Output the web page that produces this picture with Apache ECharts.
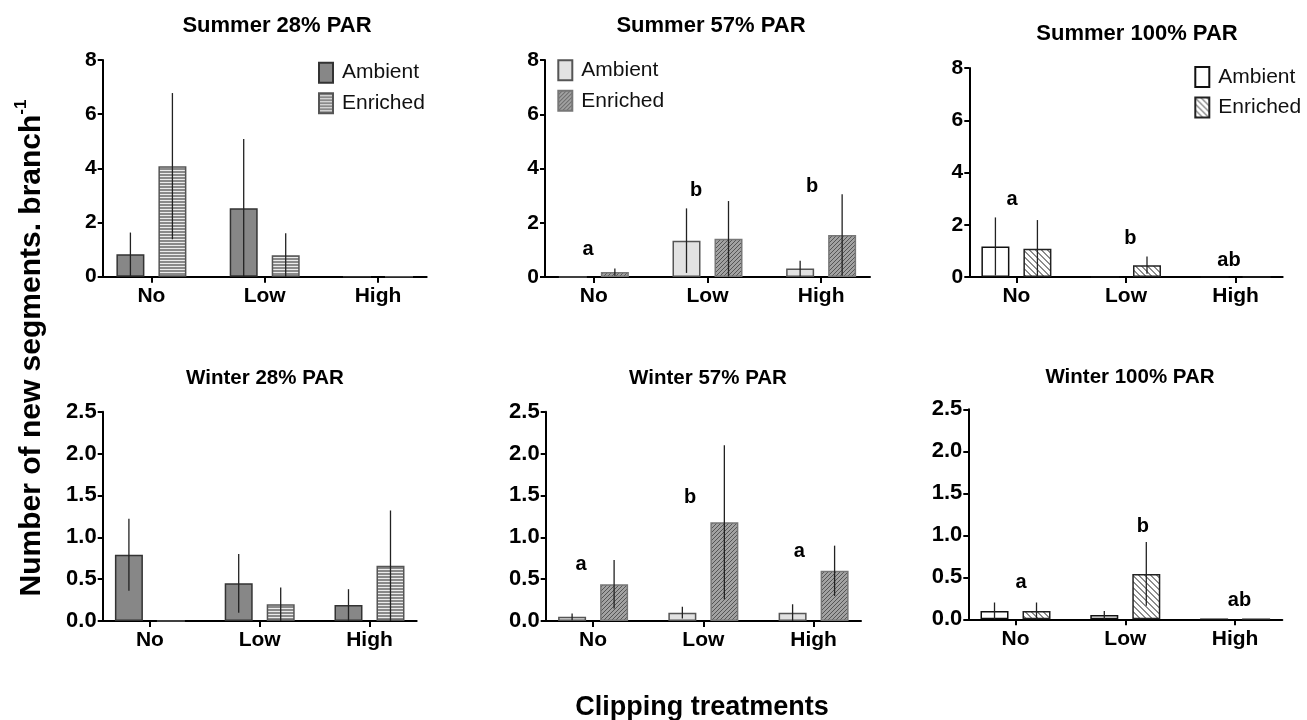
<!DOCTYPE html>
<html><head><meta charset="utf-8">
<script src="https://cdn.jsdelivr.net/npm/echarts@6/dist/echarts.min.js"></script>
<style>html,body{margin:0;padding:0;background:#fff}#c{width:1307px;height:720px}</style>
</head><body><div id="c"></div>
<script>
// ---------- DATA ----------
const categories = ['No', 'Low', 'High'];
const panelTitles = ['Summer 28% PAR', 'Summer 57% PAR', 'Summer 100% PAR', 'Winter 28% PAR', 'Winter 57% PAR', 'Winter 100% PAR'];
const seriesNames = ['Ambient', 'Enriched'];
const summerTicks = [0, 2, 4, 6, 8];
const winterTicks = [0, 0.5, 1.0, 1.5, 2.0, 2.5];

const summer28Ambient = [0.83, 2.53, 0];
const summer28AmbientErr = [0.80, 2.55, 0];
const summer28Enriched = [4.08, 0.79, 0];
const summer28EnrichedErr = [2.70, 0.81, 0];

const summer57Ambient = [0, 1.34, 0.31];
const summer57AmbientErr = [0, 1.19, 0.29];
const summer57Enriched = [0.18, 1.41, 1.55];
const summer57EnrichedErr = [0.13, 1.39, 1.50];
const summer57Letters = ['a', 'b', 'b'];
const summer57LetterAt = [[-0.05, 1.0], [0.90, 3.2], [1.92, 3.33]];

const summer100Ambient = [1.17, 0, 0];
const summer100AmbientErr = [1.11, 0, 0];
const summer100Enriched = [1.08, 0.45, 0];
const summer100EnrichedErr = [1.10, 0.33, 0];
const summer100Letters = ['a', 'b', 'ab'];
const summer100LetterAt = [[-0.04, 2.95], [1.04, 1.48], [1.94, 0.65]];

const winter28Ambient = [0.79, 0.45, 0.19];
const winter28AmbientErr = [0.43, 0.35, 0.19];
const winter28Enriched = [0, 0.20, 0.66];
const winter28EnrichedErr = [0, 0.20, 0.66];

const winter57Ambient = [0.05, 0.10, 0.10];
const winter57AmbientErr = [0.04, 0.07, 0.10];
const winter57Enriched = [0.44, 1.18, 0.60];
const winter57EnrichedErr = [0.29, 0.92, 0.30];
const winter57Letters = ['a', 'b', 'a'];
const winter57LetterAt = [[-0.11, 0.67], [0.88, 1.47], [1.87, 0.83]];

const winter100Ambient = [0.10, 0.05, 0];
const winter100AmbientErr = [0.10, 0.05, 0];
const winter100Enriched = [0.10, 0.54, 0];
const winter100EnrichedErr = [0.10, 0.38, 0];
const winter100Letters = ['a', 'b', 'ab'];
const winter100LetterAt = [[0.05, 0.44], [1.16, 1.10], [2.04, 0.22]];

// ---------- STYLE ----------
const FONT = "'Liberation Sans', Arial, Helvetica, sans-serif";
const BAR_W = 28;

function makePattern(kind) {
  const c = document.createElement('canvas');
  const g = c.getContext('2d');
  if (kind === 'hstripe') {
    c.width = 4; c.height = 3;
    g.fillStyle = '#8a8a8a'; g.fillRect(0, 0, 4, 3);
    g.fillStyle = '#ececec'; g.fillRect(0, 2, 4, 1);
  } else if (kind === 'darkhatch') {
    c.width = 4; c.height = 4;
    g.fillStyle = '#a2a2a2'; g.fillRect(0, 0, 4, 4);
    g.fillStyle = '#555555';
    for (let i = 0; i < 4; i++) g.fillRect(i, 3 - i, 1, 1);
  } else {
    c.width = 6; c.height = 6;
    g.fillStyle = '#ffffff'; g.fillRect(0, 0, 6, 6);
    g.fillStyle = '#8c8c8c';
    for (let i = 0; i < 6; i++) { g.fillRect(i, i, 1, 1); g.fillRect(i, (i + 1) % 6, 1, 1); }
  }
  return { image: c, repeat: 'repeat' };
}

const styles = {
  dark:  [{ color: '#878787', borderColor: '#333' }, { color: makePattern('hstripe'), borderColor: '#555' }],
  mid:   [{ color: '#e2e2e2', borderColor: '#555' }, { color: makePattern('darkhatch'), borderColor: '#777' }],
  light: [{ color: '#ffffff', borderColor: '#111' }, { color: makePattern('lighthatch'), borderColor: '#222' }]
};

const panels = [
  { vals: [summer28Ambient, summer28Enriched], errs: [summer28AmbientErr, summer28EnrichedErr], ticks: summerTicks, style: 'dark',
    grid: { left: 102.7, top: 60, width: 324, height: 216.7 }, titleAt: [272, 10], legendAt: [313, 56.7], letters: null },
  { vals: [summer57Ambient, summer57Enriched], errs: [summer57AmbientErr, summer57EnrichedErr], ticks: summerTicks, style: 'mid',
    grid: { left: 545, top: 60, width: 325, height: 217 }, titleAt: [706, 10], legendAt: [552.3, 54.3], letters: [summer57Letters, summer57LetterAt] },
  { vals: [summer100Ambient, summer100Enriched], errs: [summer100AmbientErr, summer100EnrichedErr], ticks: summerTicks, style: 'light',
    grid: { left: 969.3, top: 68, width: 313.4, height: 209 }, titleAt: [1132, 18], legendAt: [1189.3, 61], letters: [summer100Letters, summer100LetterAt] },
  { vals: [winter28Ambient, winter28Enriched], errs: [winter28AmbientErr, winter28EnrichedErr], ticks: winterTicks, style: 'dark',
    grid: { left: 102.7, top: 411.7, width: 314, height: 209.3 }, titleAt: [260, 363], legendAt: null, letters: null },
  { vals: [winter57Ambient, winter57Enriched], errs: [winter57AmbientErr, winter57EnrichedErr], ticks: winterTicks, style: 'mid',
    grid: { left: 545.7, top: 411.7, width: 315.3, height: 209.3 }, titleAt: [703, 363], legendAt: null, letters: [winter57Letters, winter57LetterAt] },
  { vals: [winter100Ambient, winter100Enriched], errs: [winter100AmbientErr, winter100EnrichedErr], ticks: winterTicks, style: 'light',
    grid: { left: 968.3, top: 409.3, width: 314, height: 210 }, titleAt: [1125, 361.5], legendAt: null, letters: [winter100Letters, winter100LetterAt] }
];

const grids = [], xAxes = [], yAxes = [], series = [], titles = [], legends = [];

panels.forEach((p, k) => {
  grids.push(Object.assign({ containLabel: false }, p.grid));
  const tks = p.ticks;
  const isWinter = tks === winterTicks;
  xAxes.push({
    type: 'value', gridIndex: k, min: -0.43, max: 2.43,
    axisLine: { show: true, onZero: false, lineStyle: { color: '#000', width: 2 } },
    axisTick: { show: true, customValues: [0, 1, 2], length: 6, lineStyle: { color: '#000', width: 2 } },
    axisLabel: { customValues: [0, 1, 2], formatter: v => categories[Math.round(v)] || '', margin: 9,
      color: '#000', fontWeight: 'bold', fontSize: 21, fontFamily: FONT },
    splitLine: { show: false }
  });
  yAxes.push({
    type: 'value', gridIndex: k, min: tks[0], max: tks[tks.length - 1], interval: tks[1] - tks[0],
    axisLine: { show: true, onZero: false, lineStyle: { color: '#000', width: 2 } },
    axisTick: { show: true, length: 5, lineStyle: { color: '#000', width: 2 } },
    axisLabel: { formatter: v => isWinter ? v.toFixed(1) : String(v), margin: 6,
      color: '#000', fontWeight: 'bold', fontSize: isWinter ? 22 : 21, fontFamily: FONT },
    splitLine: { show: false }
  });
  titles.push({ text: panelTitles[k], left: p.titleAt[0], top: p.titleAt[1], textAlign: 'center',
    textStyle: { fontSize: isWinter ? 20.5 : 22, fontWeight: 'bold', color: '#000', fontFamily: FONT } });

  const st = styles[p.style];
  seriesNames.forEach((nm, s) => {
    series.push({
      type: 'bar', name: nm + '|' + k, xAxisIndex: k, yAxisIndex: k,
      barWidth: BAR_W, barGap: '50%',
      itemStyle: { color: st[s].color, borderColor: st[s].borderColor, borderWidth: 1.5 },
      data: p.vals[s].map((v, i) => [i, v]),
      silent: true, animation: false
    });
  });
  // error bars
  const eb = [];
  seriesNames.forEach((nm, s) => {
    p.vals[s].forEach((v, i) => {
      const e = p.errs[s][i];
      if (e > 0) eb.push([i, Math.max(0, v - e), v + e, s]);
    });
  });
  series.push({
    type: 'custom', xAxisIndex: k, yAxisIndex: k, z: 5, silent: true, animation: false,
    encode: { x: 0, y: [1, 2] },
    data: eb,
    renderItem: (params, api) => {
      const lo = api.coord([api.value(0), api.value(1)]);
      const hi = api.coord([api.value(0), api.value(2)]);
      const dx = (api.value(3) === 0 ? -1 : 1) * BAR_W * 0.75;
      return { type: 'line', shape: { x1: lo[0] + dx, y1: lo[1], x2: lo[0] + dx, y2: hi[1] },
        style: { stroke: '#222', lineWidth: 1.3 } };
    }
  });
  if (p.letters) {
    const [txt, at] = p.letters;
    series.push({
      type: 'custom', xAxisIndex: k, yAxisIndex: k, z: 6, silent: true, animation: false,
      encode: { x: 0, y: 1 },
      data: at.map((a, i) => [a[0], a[1], i]),
      renderItem: (params, api) => {
        const pt = api.coord([api.value(0), api.value(1)]);
        return { type: 'text', x: pt[0], y: pt[1],
          style: { text: txt[api.value(2)], fill: '#000', align: 'center', verticalAlign: 'middle',
            font: 'bold 20px ' + FONT } };
      }
    });
  }
  if (p.legendAt) {
    legends.push({
      data: seriesNames.map(nm => nm + '|' + k), orient: 'vertical', left: p.legendAt[0], top: p.legendAt[1],
      icon: 'rect', itemWidth: 14, itemHeight: 20, itemGap: 8.5, selectedMode: false,
      formatter: n => n.split('|')[0],
      textStyle: { fontSize: 21, color: '#111', fontFamily: FONT, padding: [0, 0, 0, 4] }
    });
  }
});

titles.push({ text: 'Clipping treatments', left: 697, top: 689, textAlign: 'center',
  textStyle: { fontSize: 27, fontWeight: 'bold', color: '#000', fontFamily: FONT } });

const chart = echarts.init(document.getElementById('c'), null, { renderer: 'canvas' });
chart.setOption({
  backgroundColor: '#fff',
  animation: false,
  title: titles,
  legend: legends,
  grid: grids,
  xAxis: xAxes,
  yAxis: yAxes,
  series: series,
  graphic: [{
    type: 'text', x: 30, y: 348, rotation: Math.PI / 2,
    style: {
      text: '{m|Number of new segments. branch}{s|-1}',
      align: 'center', verticalAlign: 'middle', fill: '#000',
      rich: {
        m: { fontSize: 30, fontWeight: 'bold', fontFamily: FONT, lineHeight: 34, verticalAlign: 'bottom' },
        s: { fontSize: 17, fontWeight: 'bold', fontFamily: FONT, lineHeight: 34, verticalAlign: 'top' }
      }
    }
  }]
});
</script>
</body></html>
